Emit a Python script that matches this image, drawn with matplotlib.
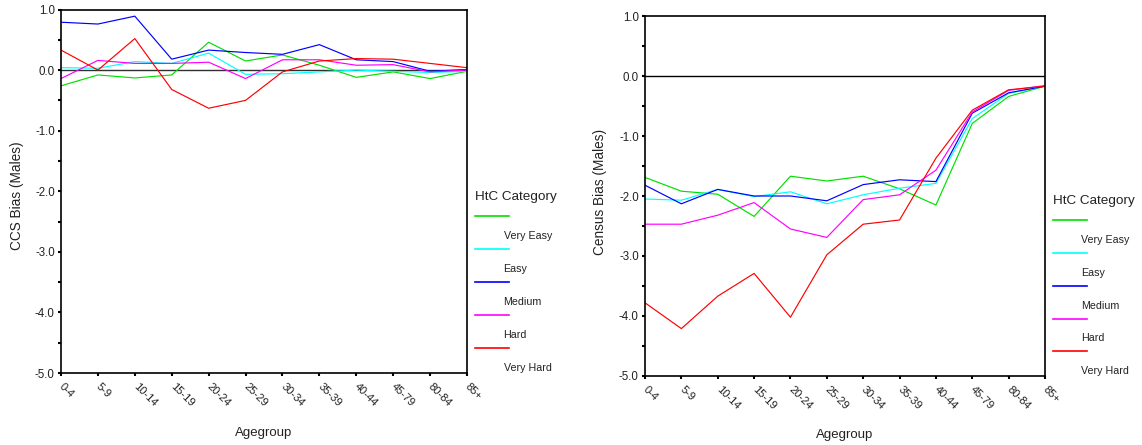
import matplotlib
matplotlib.use("Agg")
import matplotlib.pyplot as plt
from matplotlib.ticker import MultipleLocator, FormatStrFormatter

plt.rcParams['font.family'] = ['Liberation Sans', 'DejaVu Sans']

agegroups = ['0-4', '5-9', '10-14', '15-19', '20-24', '25-29', '30-34',
             '35-39', '40-44', '45-79', '80-84', '85+']
categories = ['Very Easy', 'Easy', 'Medium', 'Hard', 'Very Hard']
colors = ['#00e000', '#00ffff', '#0000ff', '#ff00ff', '#ff0000']

# CCS bias for males by hard-to-count category
ccs_very_easy = [-0.26, -0.08, -0.13, -0.08, 0.46, 0.15, 0.25, 0.08, -0.12, -0.03, -0.14, -0.02]
ccs_easy      = [0.04, 0.03, 0.14, 0.11, 0.28, -0.07, -0.06, -0.03, 0.00, -0.02, -0.04, -0.02]
ccs_medium    = [0.79, 0.76, 0.89, 0.18, 0.33, 0.29, 0.26, 0.42, 0.17, 0.14, -0.02, 0.01]
ccs_hard      = [-0.14, 0.16, 0.11, 0.11, 0.13, -0.14, 0.17, 0.17, 0.08, 0.09, -0.03, 0.00]
ccs_very_hard = [0.33, 0.00, 0.52, -0.32, -0.63, -0.50, -0.03, 0.15, 0.19, 0.18, 0.11, 0.04]

# Census bias for males by hard-to-count category
cen_very_easy = [-1.69, -1.92, -1.97, -2.34, -1.67, -1.75, -1.67, -1.88, -2.15, -0.79, -0.34, -0.17]
cen_easy      = [-2.05, -2.07, -1.89, -2.01, -1.93, -2.13, -1.98, -1.87, -1.79, -0.71, -0.29, -0.17]
cen_medium    = [-1.82, -2.13, -1.89, -2.00, -2.00, -2.08, -1.81, -1.73, -1.76, -0.62, -0.28, -0.17]
cen_hard      = [-2.47, -2.47, -2.32, -2.11, -2.55, -2.69, -2.06, -1.98, -1.57, -0.60, -0.24, -0.16]
cen_very_hard = [-3.78, -4.21, -3.67, -3.29, -4.02, -2.98, -2.47, -2.40, -1.37, -0.57, -0.23, -0.17]

ccs = [ccs_very_easy, ccs_easy, ccs_medium, ccs_hard, ccs_very_hard]
census = [cen_very_easy, cen_easy, cen_medium, cen_hard, cen_very_hard]

W, H = 1142, 445
fig = plt.figure(figsize=(W / 100, H / 100), dpi=100)


def px_axes(left, top, right, bottom):
    return fig.add_axes([left / W, 1 - bottom / H, (right - left) / W, (bottom - top) / H])


ax1 = px_axes(61, 9.5, 467, 373)
ax2 = px_axes(645, 16, 1045, 376)

x = list(range(len(agegroups)))

panels = [
    # axes, series, y label, label x, label centre, x label top, zero line colour
    (ax1, ccs, 'CCS Bias (Males)', -0.091, 0.487, -0.149, '#303030'),
    (ax2, census, 'Census Bias (Males)', -0.095, 0.511, -0.147, 'black'),
]

for ax, series, ylab, yx, ycen, xtop, zcol in panels:
    ax.axhline(0, color=zcol, lw=1.0, zorder=1)
    for vals, c in zip(series, colors):
        ax.plot(x, vals, color=c, lw=0.85, zorder=2)

    ax.set_xlim(0, len(agegroups) - 1)
    ax.set_ylim(-5, 1)
    ax.yaxis.set_major_locator(MultipleLocator(1))
    ax.yaxis.set_minor_locator(MultipleLocator(0.5))
    ax.yaxis.set_major_formatter(FormatStrFormatter('%.1f'))
    ax.set_xticks(x)
    ax.set_xticklabels(agegroups, rotation=-45, ha='left', va='center',
                       rotation_mode='anchor')
    ax.tick_params(axis='both', which='both', direction='out', length=2.5,
                   width=1.5, labelcolor='#222222', pad=2)
    ax.tick_params(axis='y', labelsize=8.3)
    ax.tick_params(axis='x', labelsize=8, pad=6)
    for sp in ax.spines.values():
        sp.set_linewidth(1.2)

    ax.set_ylabel(ylab, fontsize=9.8, color='#222222')
    ax.yaxis.set_label_coords(yx, ycen)
    ax.set_xlabel('Agegroup', fontsize=9.5, color='#222222', va='top')
    ax.xaxis.set_label_coords(0.5, xtop)

    # SPSS-style legend: each line sits above its label
    ax.text(1.02, 0.485, 'HtC Category', transform=ax.transAxes,
            fontsize=9.7, color='#222222', va='center', ha='left')
    for i, (name, c) in enumerate(zip(categories, colors)):
        y0 = 0.432 - i * 0.0908
        ax.plot([1.02, 1.104], [y0, y0], color=c, lw=1.2,
                transform=ax.transAxes, clip_on=False)
        ax.text(1.09, y0 - 0.055, name, transform=ax.transAxes,
                fontsize=7.7, color='#222222', va='center', ha='left')

fig.savefig('out.png', dpi=100)
